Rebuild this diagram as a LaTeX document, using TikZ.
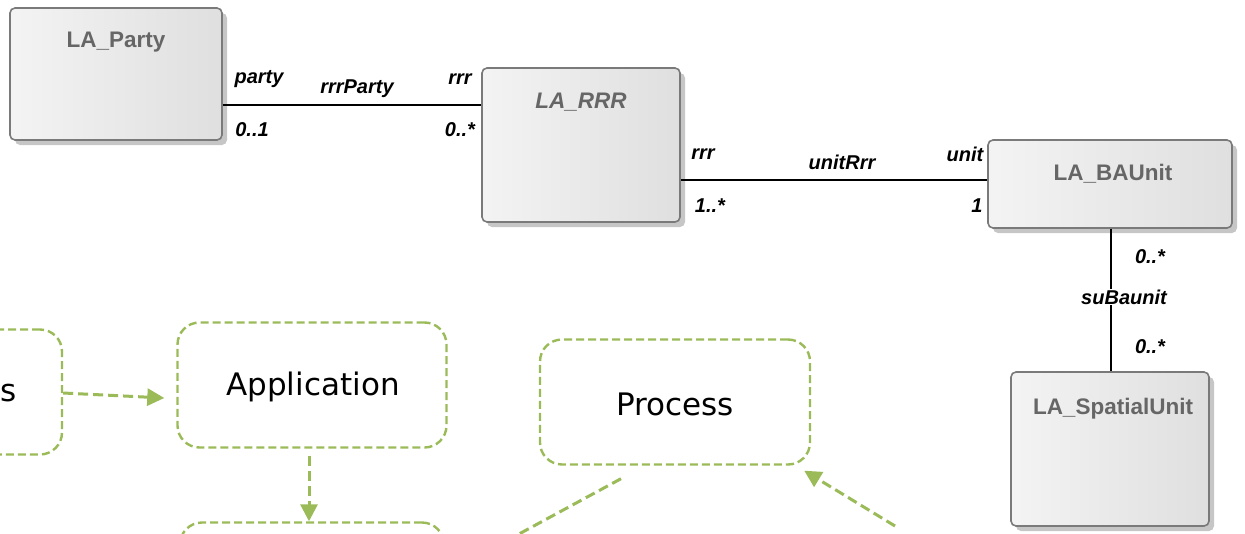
\documentclass[tikz,border=0pt]{standalone}
\usepackage{fontspec}
\usetikzlibrary{arrows.meta,shadows}

\newfontfamily\umlfont{Liberation Sans}
\newfontfamily\flowfont{DejaVu Sans}

\definecolor{flowgreen}{HTML}{9BBB59}
\definecolor{umlborder}{HTML}{7A7A7A}
\definecolor{umltitle}{HTML}{666666}

\tikzset{
    umlclass/.style={draw=umlborder, line width=1.6pt, rounded corners=5pt,
        left color=gray!9, right color=gray!25,
        drop shadow={shadow xshift=5pt, shadow yshift=-5pt, fill=gray!45, opacity=1},
        inner sep=0pt},
    umltitlebox/.style={font=\umlfont\fontsize{22.5}{26}\selectfont\bfseries, text=umltitle},
    role/.style={font=\umlfont\fontsize{20}{23}\selectfont\bfseries\itshape, inner sep=1pt},
    assoc/.style={line width=2pt, black},
    flowbox/.style={draw=flowgreen, line width=2.4pt, dash pattern=on 8pt off 4pt,
        rounded corners=22pt, minimum width=270pt, minimum height=125pt},
    flowtext/.style={font=\flowfont\fontsize{31}{37}\selectfont, text=black},
    flowarrow/.style={draw=flowgreen, line width=3pt, dash pattern=on 10pt off 5pt,
        -{Triangle[length=17pt,width=17pt]}}
}

\begin{document}
\begin{tikzpicture}[x=1pt, y=-1pt]

% Frame of the picture (pixel coordinates, y downwards)
\def\picW{1245}   % Width of the picture
\def\picH{533}    % Height of the picture
\useasboundingbox (0,0) rectangle (\picW,\picH);
\clip (0,0) rectangle (\picW,\picH);

% UML classes
\node[umlclass, minimum width=212pt, minimum height=132pt] (party) at (116,74) {};
\node[umlclass, minimum width=198pt, minimum height=154pt] (rrr) at (581,145) {};
\node[umlclass, minimum width=244pt, minimum height=88pt] (baunit) at (1110,184) {};
\node[umlclass, minimum width=198pt, minimum height=154pt] (spatial) at (1110,449) {};

% Class names
\node[umltitlebox] (party-title) at ([yshift=-35pt]party.north) {LA\_Party};
\node[umltitlebox, font=\umlfont\fontsize{22.5}{26}\selectfont\bfseries\itshape] (rrr-title) at ([yshift=-35pt]rrr.north) {LA\_RRR};
\node[umltitlebox] (baunit-title) at ([xshift=3pt,yshift=-35pt]baunit.north) {LA\_BAUnit};
\node[umltitlebox] (spatial-title) at ([xshift=3pt,yshift=-37pt]spatial.north) {LA\_SpatialUnit};

% Associations
\draw[assoc] ([yshift=-31pt]party.east) -- ([yshift=-31pt]party.east -| rrr.west);
\draw[assoc] ([yshift=4pt]baunit.west) -- ([yshift=4pt]baunit.west -| rrr.east);
\draw[assoc] ([xshift=1pt]baunit.south) -- ([xshift=1pt]spatial.north);

% Role names and multiplicities
\foreach \nm/\pos/\txt in {
    role-party/{259,79}/party, name-rrrparty/{357,89}/rrrParty, role-rrr/{460,79}/rrr,
    mult-party/{252,130}/0..1, mult-rrr/{460,130}/0..*,
    role-rrr2/{703,154}/rrr, name-unitrrr/{842,162}/unitRrr, role-unit/{965,154}/unit,
    mult-rrr2/{710,206}/1..*, mult-unit/{977,206}/1,
    mult-baunit/{1150,257}/0..*, mult-spatial/{1150,347}/0..*} {
    \node[role] (\nm) at (\pos) {\txt};
}
\node[role, fill=white] (name-subaunit) at (1124,297) {suBaunit};

% Flow boxes (partly outside the picture)
\node[flowbox, minimum width=262pt] (source) at (-69,392) {};
\node[flowtext, anchor=west, inner sep=0pt] (source-text) at (0,393) {s};
\node[flowbox, minimum width=269pt] (application) at (312,385) {};
\node[flowtext] (application-text) at (313,387) {Application};
\node[flowbox] (process) at (675,402) {};
\node[flowtext] (process-text) at (675,404) {Process};
\node[flowbox, minimum width=264pt] (next) at (312,585) {};

% Loose ends of the flow arrows
\coordinate (offleft) at (471,560);
\coordinate (offright) at (895,526);

% Flow arrows
\draw[flowarrow] ([yshift=-1pt]source.east) -- ([xshift=-12pt,yshift=-13pt]application.west);
\draw[flowarrow] ([xshift=-3pt,yshift=-7pt]application.south) -- ([xshift=-3pt]next.north);
\draw[flowarrow, -] ([xshift=-54pt,yshift=-13pt]process.south) -- (offleft);
\draw[flowarrow] (offright) -- ([xshift=-7pt,yshift=-5pt]process.south east);

\end{tikzpicture}
\end{document}
